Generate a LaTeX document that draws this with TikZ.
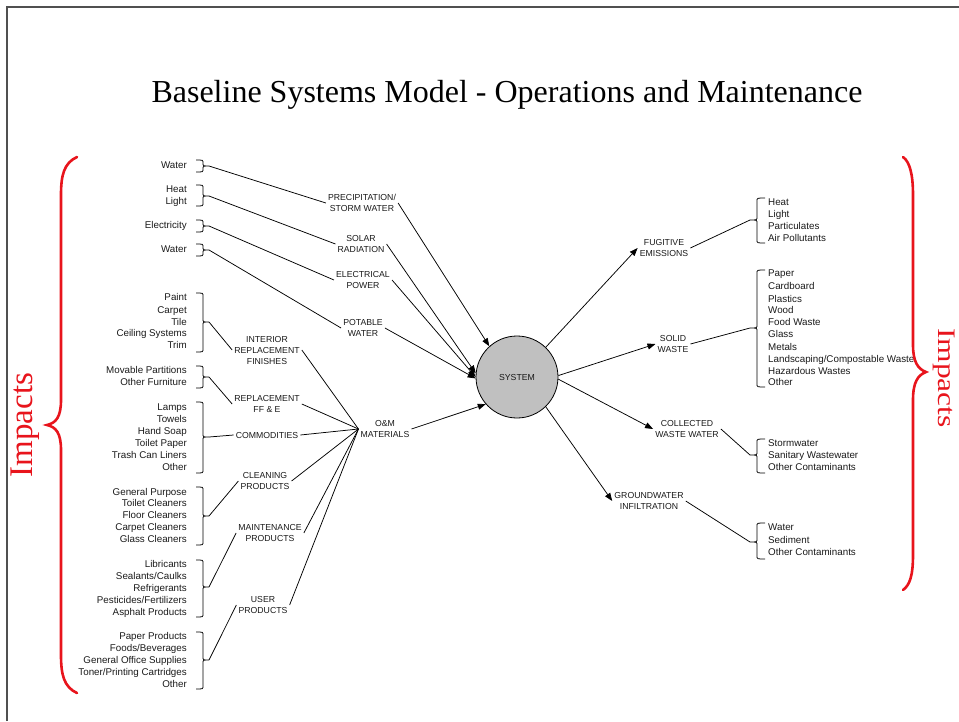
\documentclass[tikz,border=0pt]{standalone}
\usepackage{fontspec}
\setmainfont{Liberation Serif}
\setsansfont{Liberation Sans}
\usetikzlibrary{arrows.meta}
\definecolor{sysgray}{HTML}{C0C0C0}
\definecolor{ink}{HTML}{1A1A1A}
\definecolor{framegray}{HTML}{505050}
\definecolor{impred}{HTML}{E8141C}

% right-pointing brace (ends at x=196): name, top y, tip y, bottom y
\newcommand{\bkR}[4]{%
  \draw[brk] (196,#2) .. controls (203,#2) .. (203,#2+3) -- (203,#3-3)
    .. controls (203,#3) .. (209,#3) .. controls (203,#3) .. (203,#3+3)
    -- (203,#4-3) .. controls (203,#4) .. (196,#4);
  \coordinate (#1) at (209,#3);}
% left-pointing brace (ends at x=765): name, top y, tip y, bottom y
\newcommand{\bkL}[4]{%
  \draw[brk] (765,#2) .. controls (757,#2) .. (757,#2+3) -- (757,#3-3)
    .. controls (757,#3) .. (750,#3) .. controls (757,#3) .. (757,#3+3)
    -- (757,#4-3) .. controls (757,#4) .. (765,#4);
  \coordinate (#1) at (750,#3);}

\begin{document}
\begin{tikzpicture}[x=1pt,y=-1pt,
  item/.style={font=\sffamily\fontsize{9.8}{12}\selectfont, text=ink, inner sep=0pt},
  catlabel/.style={font=\sffamily\fontsize{8.7}{11}\selectfont, text=ink, align=center, inner sep=2pt},
  wire/.style={draw=black, line width=0.75pt},
  feed/.style={wire, -{Triangle[length=8pt,width=6pt]}},
  brk/.style={draw=black, line width=0.8pt},
  bigbrace/.style={draw=impred, line width=2.6pt, line cap=round},
  impact/.style={font=\fontsize{33}{36}\selectfont, text=impred, inner sep=0pt}]

\useasboundingbox (0,0) rectangle (959,721);
\draw[framegray, line width=1.5pt] (7,721) -- (7,7) -- (959,7);

% title
\node[font=\fontsize{32}{38}\selectfont] (title) at (507,95)
  {Baseline Systems Model - Operations and Maintenance};

% inputs listed on the left
\foreach \t/\y [count=\i] in {Water/165, Heat/189, Light/201, Electricity/225, Water/249,
  Paint/297, Carpet/310, Tile/322, Ceiling Systems/333, Trim/345,
  Movable Partitions/370, Other Furniture/382,
  Lamps/407, Towels/419, Hand Soap/431, Toilet Paper/443, Trash Can Liners/455, Other/467,
  General Purpose/492, Toilet Cleaners/503, Floor Cleaners/515, Carpet Cleaners/527, Glass Cleaners/539,
  Libricants/564, {Sealants/Caulks}/576, Refrigerants/588, {Pesticides/Fertilizers}/600, Asphalt Products/612,
  Paper Products/636, {Foods/Beverages}/648, General Office Supplies/660, {Toner/Printing Cartridges}/672, Other/684}
  \node[item, anchor=base east] (in\i) at (187,\y+3.5) {\t};

% outputs listed on the right
\foreach \t/\y [count=\i] in {Heat/202, Light/214, Particulates/226, Air Pollutants/238,
  Paper/273, Cardboard/286, Plastics/299, Wood/310, Food Waste/322, Glass/334, Metals/347,
  {Landscaping/Compostable Waste}/359, Hazardous Wastes/371, Other/382,
  Stormwater/443, Sanitary Wastewater/455, Other Contaminants/467,
  Water/527, Sediment/540, Other Contaminants/552}
  \node[item, anchor=base west] (out\i) at (768,\y+3.5) {\t};

% braces grouping the lists
\bkR{bw1}{160}{166}{172}
\bkR{bhl}{185}{196}{206}
\bkR{bel}{220}{226}{232}
\bkR{bw2}{244}{250}{256}
\bkR{bpa}{293}{322}{352}
\bkR{bmo}{366}{377}{388}
\bkR{bla}{402}{437}{473}
\bkR{bge}{487}{516}{545}
\bkR{bli}{560}{587}{617}
\bkR{bpp}{632}{660}{689}
\bkL{bfu}{198}{220}{243}
\bkL{bso}{270}{328}{387}
\bkL{bcw}{439}{455}{473}
\bkL{bgw}{523}{542}{559}

% category labels
\node[catlabel] (prec)  at (362,203) {PRECIPITATION/\\STORM WATER};
\node[catlabel] (solar) at (361,244) {SOLAR\\RADIATION};
\node[catlabel] (elec)  at (363,280) {ELECTRICAL\\POWER};
\node[catlabel] (pot)   at (363,328) {POTABLE\\WATER};
\node[catlabel] (irf)   at (267,350) {INTERIOR\\REPLACEMENT\\FINISHES};
\node[catlabel] (ffe)   at (267,404) {REPLACEMENT\\FF \& E};
\node[catlabel] (comm)  at (267,435) {COMMODITIES};
\node[catlabel] (clean) at (265,481) {CLEANING\\PRODUCTS};
\node[catlabel] (maint) at (270,533) {MAINTENANCE\\PRODUCTS};
\node[catlabel] (user)  at (263,605) {USER\\PRODUCTS};
\node[catlabel] (om)    at (385,429) {O\&M\\MATERIALS};
\node[catlabel] (fug)   at (664,248) {FUGITIVE\\EMISSIONS};
\node[catlabel] (solid) at (673,344) {SOLID\\WASTE};
\node[catlabel] (cww)   at (687,429) {COLLECTED\\WASTE WATER};
\node[catlabel] (gwi)   at (649,501) {GROUNDWATER\\INFILTRATION};

% the system
\node[circle, draw, line width=0.8pt, fill=sysgray, minimum size=82pt, inner sep=0pt,
      font=\sffamily\fontsize{8.7}{10}\selectfont, text=ink] (sys) at (517,377) {SYSTEM};

% brace tips to categories
\draw[wire] (bw1) -- (prec.west);
\draw[wire] (bhl) -- (solar.west);
\draw[wire] (bel) -- (elec.west);
\draw[wire] (bw2) -- (pot.west);
\draw[wire] (bpa) -- (irf.west);
\draw[wire] (bmo) -- (ffe.west);
\draw[wire] (bla) -- (comm.west);
\draw[wire] (bge) -- (clean.west);
\draw[wire] (bli) -- (maint.west);
\draw[wire] (bpp) -- (user.west);

% materials gathered into O&M
\foreach \n in {irf,ffe,comm,clean,maint,user}
  \draw[wire] (\n.east) -- (om.west);

% flows into the system
\draw[feed] (prec.east)  -- (sys.132);
\draw[feed] (solar.east) -- (sys.175);
\draw[feed] (elec.east)  -- (sys.180);
\draw[feed] (pot.east)   -- (sys.182);
\draw[feed] (om.east)    -- (sys.221);

% flows out of the system
\draw[feed] (sys.46)  -- (fug.west);
\draw[feed] (sys.2)   -- (solid.west);
\draw[feed] (sys.-3)  -- (cww.west);
\draw[feed] (sys.-46) -- (gwi.west);
\draw[wire] (fug.east)   -- (bfu);
\draw[wire] (solid.east) -- (bso);
\draw[wire] (cww.east)   -- (bcw);
\draw[wire] (gwi.east)   -- (bgw);

% impact braces
\draw[bigbrace] (77,157) .. controls (64,163) and (61,175) .. (61,195) -- (61,400)
  .. controls (61,417) and (56,423) .. (47,425) .. controls (56,427) and (61,433) .. (61,450)
  -- (61,655) .. controls (61,675) and (64,687) .. (77,693);
\draw[bigbrace] (903,157) .. controls (910,162) and (913,175) .. (913,195) -- (913,345)
  .. controls (913,362) and (918,369) .. (926,372) .. controls (918,375) and (913,382) .. (913,400)
  -- (913,555) .. controls (913,575) and (910,585) .. (903,590);
\node[impact, rotate=90, anchor=base] (impL) at (32,425) {Impacts};
\node[impact, font=\fontsize{31.5}{34}\selectfont, rotate=-90, yscale=0.8, anchor=base]
  (impR) at (938,378) {Impacts};
\end{tikzpicture}
\end{document}
